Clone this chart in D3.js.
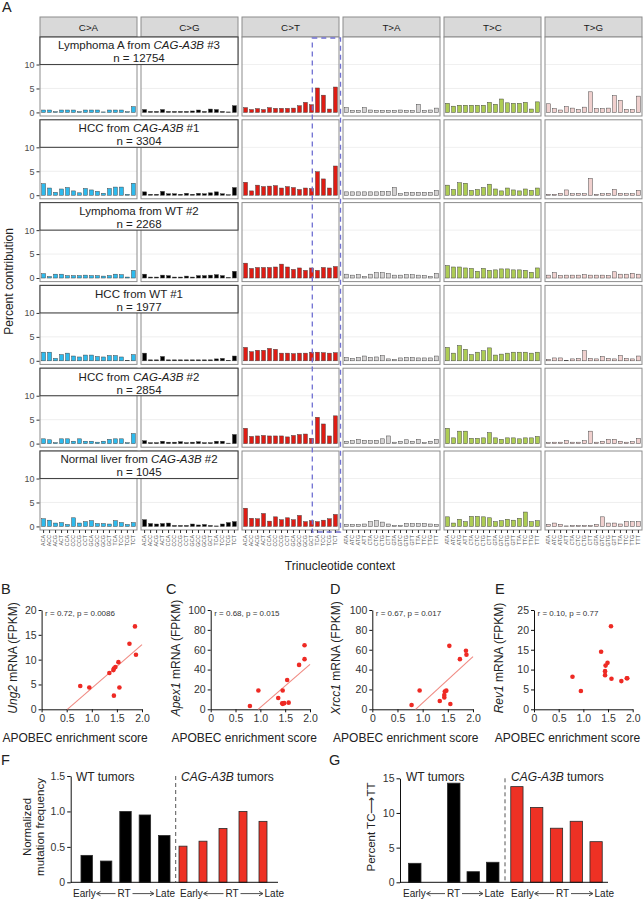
<!DOCTYPE html>
<html><head><meta charset="utf-8">
<script src="https://cdn.jsdelivr.net/npm/d3@7"></script>
<style>
body{margin:0;background:#fff}
svg{display:block;font-family:'Liberation Sans',Arial,Helvetica,sans-serif}
</style>
</head><body>
<svg id="chart" width="643" height="899"></svg>
<script>
// ================= DATA =================
const mutTypes = ["C>A","C>G","C>T","T>A","T>C","T>G"];
const mutColors = ["#2EBAED","#000000","#DE1C14","#D4D2D2","#ADCC54","#F0D0CE"];
const contextsC = ["ACA","ACC","ACG","ACT","CCA","CCC","CCG","CCT","GCA","GCC","GCG","GCT","TCA","TCC","TCG","TCT"];
const contextsT = ["ATA","ATC","ATG","ATT","CTA","CTC","CTG","CTT","GTA","GTC","GTG","GTT","TTA","TTC","TTG","TTT"];
const yTicksA = [0,5,10];
const sampleLabels = [
  ["Lymphoma A from ","CAG-A3B"," #3"],
  ["HCC from ","CAG-A3B"," #1"],
  ["Lymphoma from WT #2","",""],
  ["HCC from WT #1","",""],
  ["HCC from ","CAG-A3B"," #2"],
  ["Normal liver from ","CAG-A3B"," #2"]
];
const sampleN = [12754, 3304, 2268, 1977, 2854, 1045];

// percent contribution, order: C>A, C>G, C>T, T>A, T>C, T>G (16 contexts each)
const profLymphomaA3B3 = [
  0.5,0.5,0.15,0.5,0.5,0.5,0.15,0.5,0.5,0.5,0.1,0.5,0.5,0.5,0.15,1.2,
  0.6,0.2,0.2,0.6,0.2,0.2,0.2,0.2,0.3,0.5,0.2,0.7,0.6,0.2,0.1,1.4,
  1.0,0.6,0.8,0.6,1.0,0.85,0.85,0.85,0.9,1.4,2.1,1.6,5.1,3.6,0.7,5.3,
  1.0,0.4,0.4,1.0,0.5,0.4,0.4,0.4,0.4,0.5,0.4,0.4,1.7,0.4,0.5,0.9,
  1.9,1.3,1.5,1.5,1.5,1.5,1.5,2.1,1.7,2.8,2.0,1.9,1.9,2.1,0.7,2.2,
  1.8,0.8,0.5,1.2,0.9,0.6,1.1,4.3,0.8,0.8,0.9,3.5,2.5,0.6,0.6,3.4
];
const profHccA3B1 = [
  2.4,1.5,0.6,1.3,1.6,0.9,0.5,1.4,1.1,0.8,0.4,1.4,1.7,1.7,0.2,2.5,
  0.7,0.2,0.2,0.8,0.3,0.3,0.2,0.4,0.2,0.4,0.3,0.5,0.7,0.3,0.1,1.6,
  2.7,0.9,2.1,1.8,1.9,2.0,1.5,1.8,1.6,1.2,1.5,1.4,4.9,3.4,1.5,6.1,
  0.7,0.7,0.7,0.7,0.7,0.7,0.8,0.8,1.6,0.3,0.6,0.6,0.6,0.6,0.6,1.0,
  2.1,1.2,2.6,2.5,1.0,1.2,1.6,2.3,1.3,0.9,1.5,1.1,0.9,1.3,1.0,1.5,
  0.2,0.2,0.4,1.1,0.3,0.4,0.3,3.5,0.2,0.3,0.4,1.2,0.4,0.3,0.3,1.0
];
const profLymphomaWT2 = [
  0.9,0.3,0.8,0.8,0.5,0.5,0.5,0.6,0.5,0.5,0.4,0.5,0.8,0.7,0.2,1.6,
  0.8,0.2,0.2,0.6,0.5,0.2,0.2,0.4,0.2,0.5,0.5,0.6,0.7,0.5,0.1,1.4,
  3.1,2.0,2.2,2.2,2.2,2.3,2.9,2.3,1.8,2.1,1.6,2.1,1.6,2.2,2.1,2.4,
  0.8,0.6,0.7,0.3,0.8,1.1,1.1,0.9,0.6,0.6,0.7,0.7,0.6,0.5,0.3,1.0,
  2.6,2.3,2.3,2.1,2.0,1.4,2.0,1.6,1.7,1.9,1.9,1.7,1.7,1.6,1.2,2.1,
  0.6,1.1,0.5,0.6,0.6,0.6,0.7,0.6,0.6,0.6,0.5,1.3,0.8,0.8,1.0,0.8
];
const profHccWT1 = [
  1.8,1.8,0.5,1.3,1.6,1.0,0.8,1.2,1.2,0.9,0.8,1.1,1.1,0.8,0.1,1.3,
  1.6,0.2,0.2,0.9,0.2,0.2,0.2,0.2,0.2,0.2,0.2,0.2,0.4,0.5,0.1,1.0,
  2.8,1.9,2.2,2.2,2.6,2.4,1.6,1.6,1.5,1.6,1.6,1.8,1.8,1.7,1.6,1.7,
  0.7,0.5,0.7,1.0,0.7,0.8,1.1,0.4,0.3,0.6,0.7,0.7,0.6,0.6,0.6,1.0,
  2.8,1.6,3.2,2.4,1.3,1.8,2.1,2.7,1.2,1.4,1.6,1.8,1.8,1.8,1.6,1.8,
  0.3,0.6,0.6,0.1,0.4,0.5,2.1,0.5,0.4,0.9,0.5,0.4,1.1,0.5,0.4,1.0
];
const profHccA3B2 = [
  1.0,0.8,0.2,1.0,1.0,0.5,1.0,0.5,0.5,0.3,0.5,0.9,1.0,1.0,0.2,2.1,
  0.6,0.2,0.2,0.5,0.3,0.3,0.4,0.2,0.3,0.4,0.2,0.2,0.5,0.5,0.1,1.9,
  3.2,1.5,1.6,1.7,1.6,1.6,1.6,1.4,1.7,1.9,2.0,1.1,5.5,4.1,1.6,5.8,
  0.5,0.6,0.9,0.7,0.6,0.7,1.0,1.6,0.3,0.5,0.8,0.5,0.9,0.2,0.5,0.9,
  3.2,1.2,2.6,2.6,1.1,1.1,1.2,2.3,1.2,0.9,1.2,1.2,1.0,1.2,1.2,1.5,
  0.2,0.3,0.3,0.6,0.3,0.3,0.6,2.6,0.3,0.5,0.9,0.9,0.5,0.3,0.4,1.1
];
const profLiverA3B2 = [
  1.6,1.3,0.7,0.8,0.4,1.8,0.7,1.0,1.2,0.6,0.6,0.5,1.2,0.8,0.4,0.8,
  1.4,0.6,0.5,0.6,0.7,0.2,0.2,0.2,0.5,0.3,0.4,0.2,0.1,0.5,0.8,1.0,
  3.8,1.7,1.6,2.7,1.1,2.0,1.4,1.8,1.4,2.3,1.0,1.2,1.0,1.3,1.6,2.5,
  0.4,0.4,0.4,0.5,1.0,1.2,0.9,0.5,0.2,0.2,0.6,0.6,0.6,0.6,0.5,0.4,
  2.0,0.7,1.5,1.0,2.1,2.1,2.0,1.8,1.0,1.2,1.5,1.3,1.7,3.0,1.0,1.2,
  0.4,0.7,0.4,0.1,0.2,0.2,0.2,0.2,0.4,2.0,0.7,0.7,0.5,1.0,1.0,1.0
];
const profiles = [profLymphomaA3B3, profHccA3B1, profLymphomaWT2, profHccWT1, profHccA3B2, profLiverA3B2];

// Scatter panels B-E
const xTicksScatter = [0,0.5,1.0,1.5,2.0];
const scoreB = [0.77,0.95,1.35,1.43,1.44,1.44,1.47,1.53,1.55,1.75,1.86,1.88];
const ung2   = [4.7,4.4,7.3,7.9,8.2,2.75,8.5,9.5,4.4,13.2,16.7,11.0];
const scoreC = [0.79,0.96,1.36,1.44,1.45,1.45,1.48,1.54,1.57,1.78,1.89,1.89];
const apex1  = [3.3,19,11.4,6.0,19,5.5,6.2,29.5,6.7,44.7,64.5,50.5];
const scoreD = [0.78,0.94,1.34,1.43,1.43,1.44,1.47,1.53,1.55,1.74,1.86,1.87];
const xrcc1  = [4.3,19,8.4,12,14.4,18,18.8,63.9,5.3,50.5,59,55];
const scoreE = [0.78,0.95,1.36,1.44,1.44,1.45,1.49,1.56,1.57,1.77,1.88,1.89];
const rev1   = [8.2,4.6,14.5,8.6,9.6,11.0,11.7,20.9,7.7,7.1,7.8,7.8];

// Panels F-G (replication timing bins, early -> late)
const rtBins = ["1","2","3","4","5"];
const normFreqWT  = [0.38,0.30,1.00,0.95,0.66];
const normFreqA3B = [0.51,0.58,0.76,1.00,0.86];
const pctTCTT_WT  = [2.74,0,14.3,1.53,2.89];
const pctTCTT_A3B = [13.8,10.8,7.8,8.8,5.86];

// ================= DRAW =================
const svg = d3.select("#chart");
const INK = "#222";

// ---------- Panel A ----------
const A = {x0:40, pitch:101, w:97, top0:37, rowPitch:82.8, h:79, stripY:17, stripH:20};
const gA = svg.append("g");
gA.append("text").attr("x",2).attr("y",12).attr("font-size",14.5).attr("fill",INK).text("A");

mutTypes.forEach((mt,t)=>{
  const px = A.x0 + t*A.pitch;
  gA.append("rect").attr("x",px).attr("y",A.stripY).attr("width",A.w).attr("height",A.stripH)
    .attr("fill","#D9D9D9").attr("stroke","#8C8C8C").attr("stroke-width",1);
  gA.append("text").attr("x",px+A.w/2).attr("y",A.stripY+A.stripH/2+3.6)
    .attr("text-anchor","middle").attr("font-size",9.8).attr("fill","#1A1A1A").text(mt);
});

const bandFor = (t)=> d3.scaleBand().domain(t<3?contextsC:contextsT)
  .range([A.x0+t*A.pitch, A.x0+t*A.pitch+A.w]).paddingInner(0.35).paddingOuter(0.275);

profiles.forEach((prof,r)=>{
  const top = A.top0 + r*A.rowPitch;
  const y = d3.scaleLinear().domain([-0.75,15.75]).range([top+A.h, top]);
  mutTypes.forEach((mt,t)=>{
    const bx = bandFor(t);
    const ctx = t<3?contextsC:contextsT;
    const px = A.x0 + t*A.pitch;
    gA.append("rect").attr("x",px).attr("y",top).attr("width",A.w).attr("height",A.h).attr("fill","#fff");
    yTicksA.forEach(v=>{
      gA.append("line").attr("x1",px).attr("x2",px+A.w).attr("y1",y(v)).attr("y2",y(v))
        .attr("stroke","#EBEBEB").attr("stroke-width",0.8);
    });
    const vals = prof.slice(t*16, t*16+16).map((v,i)=>({c:ctx[i], v}));
    gA.append("g").selectAll("rect").data(vals).join("rect")
      .attr("x",d=>bx(d.c)).attr("width",bx.bandwidth())
      .attr("y",d=>y(d.v)).attr("height",d=>y(0)-y(d.v))
      .attr("fill",mutColors[t]).attr("stroke","#3a3a3a").attr("stroke-width",0.45);
    gA.append("rect").attr("x",px).attr("y",top).attr("width",A.w).attr("height",A.h)
      .attr("fill","none").attr("stroke","#8C8C8C").attr("stroke-width",1);
  });
  const ax = gA.append("g").attr("transform",`translate(${A.x0-0.5},0)`)
    .call(d3.axisLeft(y).tickValues(yTicksA).tickSize(3).tickPadding(2).tickSizeOuter(0));
  ax.select(".domain").remove();
  ax.selectAll("line").attr("stroke","#333");
  ax.selectAll("text").attr("font-size",9).attr("fill","#4D4D4D").attr("font-family",null);
  const bw = A.pitch + A.w;
  gA.append("rect").attr("x",A.x0).attr("y",top).attr("width",bw).attr("height",y(10)-top)
    .attr("fill","#fff").attr("stroke","#444").attr("stroke-width",1.1);
  const t1 = gA.append("text").attr("x",A.x0+bw/2).attr("y",top+12.3).attr("text-anchor","middle")
    .attr("font-size",11.5).attr("fill",INK);
  t1.append("tspan").text(sampleLabels[r][0]);
  if (sampleLabels[r][1]) t1.append("tspan").attr("font-style","italic").text(sampleLabels[r][1]);
  if (sampleLabels[r][2]) t1.append("tspan").text(sampleLabels[r][2]);
  gA.append("text").attr("x",A.x0+bw/2).attr("y",top+25.3).attr("text-anchor","middle")
    .attr("font-size",11.5).attr("fill",INK).text("n = "+sampleN[r]);
});

mutTypes.forEach((mt,t)=>{
  const bx = bandFor(t);
  const ax = gA.append("g").attr("transform",`translate(0,${A.top0+5*A.rowPitch+A.h})`)
    .call(d3.axisBottom(bx).tickSize(3).tickPadding(2).tickSizeOuter(0));
  ax.select(".domain").remove();
  ax.selectAll("line").attr("stroke","#333");
  ax.selectAll("text").attr("font-family",null).attr("font-size",5.3).attr("fill","#4D4D4D")
    .attr("transform","rotate(-90)").attr("x",-5).attr("y",0).attr("dy","0.35em").attr("text-anchor","end");
});

{
  const bx = bandFor(2);
  const x1 = bx("TCA") - 3.2, x2 = A.x0+2*A.pitch+A.w+1.5;
  const y1 = A.top0+1, y2 = A.top0+5*A.rowPitch+A.h+2;
  gA.append("rect").attr("x",x1).attr("y",y1).attr("width",x2-x1).attr("height",y2-y1)
    .attr("fill","none").attr("stroke","#6F6FD2").attr("stroke-width",1.3).attr("stroke-dasharray","5,4");
}

gA.append("text").attr("transform",`translate(13,${A.top0+3*A.rowPitch - 4}) rotate(-90)`)
  .attr("text-anchor","middle").attr("font-size",12).attr("fill",INK).text("Percent contribution");
gA.append("text").attr("x",340).attr("y",570).attr("text-anchor","middle")
  .attr("font-size",12).attr("fill",INK).text("Trinucleotide context");

// ---------- Scatter panels ----------
function regression(xs, ys){
  const mx=d3.mean(xs), my=d3.mean(ys);
  let sxy=0,sxx=0; xs.forEach((x,i)=>{sxy+=(x-mx)*(ys[i]-my); sxx+=(x-mx)*(x-mx);});
  const m=sxy/sxx; return {m, b: my-m*mx};
}
function scatter(cfg){
  const g = svg.append("g");
  const x = d3.scaleLinear().domain([0,2]).range([cfg.ax0, cfg.ax1]);
  const y = d3.scaleLinear().domain([0,cfg.yMax]).range([709.3,610]);
  g.append("text").attr("x",cfg.letterX).attr("y",594).attr("font-size",14.5).attr("fill",INK).text(cfg.letter);
  const xa = g.append("g").attr("transform",`translate(0,${y(0)})`)
    .call(d3.axisBottom(x).tickValues(xTicksScatter).tickFormat(d=>d===0?"0":d3.format(".1f")(d))
      .tickSize(3).tickPadding(2).tickSizeOuter(0));
  const ya = g.append("g").attr("transform",`translate(${x(0)},0)`)
    .call(d3.axisLeft(y).tickValues(cfg.yTicks).tickSize(3).tickPadding(2).tickSizeOuter(0));
  [xa,ya].forEach(a=>{
    a.selectAll("path,line").attr("stroke","#111").attr("stroke-width",1);
    a.selectAll("text").attr("font-family",null).attr("font-size",10.5).attr("fill","#333");
  });
  if (cfg.fit){
    const {m,b} = regression(cfg.xs, cfg.ys);
    const xs0 = Math.max(0, -b/m), xs1 = 2.0;
    g.append("line").attr("x1",x(xs0)).attr("y1",y(m*xs0+b)).attr("x2",x(xs1)).attr("y2",y(m*xs1+b))
      .attr("stroke","#F08A82").attr("stroke-width",1.1);
  }
  g.selectAll("circle").data(cfg.xs.map((v,i)=>[v,cfg.ys[i]])).join("circle")
    .attr("cx",d=>x(d[0])).attr("cy",d=>y(d[1])).attr("r",2.3).attr("fill","#EE2A24");
  g.append("text").attr("x",cfg.ax0+3.5).attr("y",616).attr("font-size",8).attr("fill","#333").text(cfg.note);
  const yt = g.append("text").attr("transform",`translate(${cfg.titleX},658) rotate(-90)`)
    .attr("text-anchor","middle").attr("font-size",12).attr("fill",INK);
  yt.append("tspan").attr("font-style","italic").text(cfg.gene);
  yt.append("tspan").text(" mRNA (FPKM)");
  g.append("text").attr("x",cfg.ax0+33.5).attr("y",742).attr("text-anchor","middle")
    .attr("font-size",12).attr("fill",INK).text("APOBEC enrichment score");
}
scatter({letter:"B",letterX:1,ax0:41.6,ax1:142,yMax:20,yTicks:[0,5,10,15,20],xs:scoreB,ys:ung2,fit:true,
  note:"r = 0.72, p = 0.0086",gene:"Ung2",titleX:17});
scatter({letter:"C",letterX:166,ax0:210.7,ax1:310,yMax:100,yTicks:[0,20,40,60,80,100],xs:scoreC,ys:apex1,fit:true,
  note:"r = 0.68, p = 0.015",gene:"Apex1",titleX:180});
scatter({letter:"D",letterX:330,ax0:372.3,ax1:473,yMax:100,yTicks:[0,20,40,60,80,100],xs:scoreD,ys:xrcc1,fit:true,
  note:"r = 0.67, p = 0.017",gene:"Xrcc1",titleX:340});
scatter({letter:"E",letterX:495,ax0:534,ax1:632.7,yMax:25,yTicks:[0,5,10,15,20,25],xs:scoreE,ys:rev1,fit:false,
  note:"r = 0.10, p = 0.77",gene:"Rev1",titleX:503});

// ---------- Bar panels F, G ----------
function arrowLabel(g, x0, x1, yb){
  const fs = 10, mid=(x0+x1)/2;
  g.append("text").attr("x",x0).attr("y",yb).attr("font-size",fs).attr("fill",INK).text("Early");
  g.append("text").attr("x",x1).attr("y",yb).attr("text-anchor","end").attr("font-size",fs).attr("fill",INK).text("Late");
  g.append("text").attr("x",mid).attr("y",yb).attr("text-anchor","middle").attr("font-size",fs).attr("fill",INK).text("RT");
  const ay = yb-3.4;
  const la = x0+23.5, lb = mid-8.5, ra = mid+8.5, rb = x1-21;
  g.append("line").attr("x1",la+1).attr("x2",lb).attr("y1",ay).attr("y2",ay).attr("stroke",INK).attr("stroke-width",0.8);
  g.append("path").attr("d",`M${la},${ay} l4,-2.2 M${la},${ay} l4,2.2`).attr("stroke",INK).attr("stroke-width",0.8).attr("fill","none");
  g.append("line").attr("x1",ra).attr("x2",rb-1).attr("y1",ay).attr("y2",ay).attr("stroke",INK).attr("stroke-width",0.8);
  g.append("path").attr("d",`M${rb},${ay} l-4,-2.2 M${rb},${ay} l-4,2.2`).attr("stroke",INK).attr("stroke-width",0.8).attr("fill","none");
}
function rtPanel(cfg){
  const g = svg.append("g");
  const y = d3.scaleLinear().domain([0,cfg.yMax]).range([882.3, cfg.yTopPx]);
  g.append("text").attr("x",cfg.letterX).attr("y",765).attr("font-size",14.5).attr("fill",INK).text(cfg.letter);
  cfg.groups.forEach(gr=>{
    const bx = d3.scaleBand().domain(rtBins).range(gr.range).paddingInner(gr.pi).paddingOuter(gr.pi/2);
    g.append("g").selectAll("rect").data(gr.vals.map((v,i)=>({k:rtBins[i],v}))).join("rect")
      .attr("x",d=>bx(d.k)).attr("width",bx.bandwidth())
      .attr("y",d=>y(d.v)).attr("height",d=>y(0)-y(d.v))
      .attr("fill",gr.color).attr("stroke","#2a2a2a").attr("stroke-width",d=>d.v>0?0.8:0);
    const tl = g.append("text").attr("x",gr.labelX).attr("y",781).attr("font-size",12).attr("fill",INK);
    if (gr.italic) { tl.append("tspan").attr("font-style","italic").text(gr.italic); tl.append("tspan").text(" tumors"); }
    else tl.text("WT tumors");
    arrowLabel(g, gr.rt[0], gr.rt[1], 897);
  });
  g.append("line").attr("x1",cfg.dashX).attr("x2",cfg.dashX).attr("y1",cfg.yTopPx).attr("y2",882)
    .attr("stroke","#555").attr("stroke-width",1).attr("stroke-dasharray","4,3");
  const ya = g.append("g").attr("transform",`translate(${cfg.ax0},0)`)
    .call(d3.axisLeft(y).tickValues(cfg.yTicks).tickFormat(cfg.fmt).tickSize(3.5).tickPadding(2).tickSizeOuter(0));
  ya.selectAll("path,line").attr("stroke","#111").attr("stroke-width",1);
  ya.selectAll("text").attr("font-family",null).attr("font-size",10.5).attr("fill","#333");
  g.append("line").attr("x1",cfg.ax0).attr("x2",cfg.axEnd).attr("y1",y(0)).attr("y2",y(0)).attr("stroke","#111").attr("stroke-width",1);
  cfg.titles.forEach((t,i)=>{
    g.append("text").attr("transform",`translate(${cfg.titleX[i]},827) rotate(-90)`)
      .attr("text-anchor","middle").attr("font-size",11.5).attr("fill",INK).text(t);
  });
}
rtPanel({letter:"F",letterX:1,ax0:70.7,axEnd:278,yMax:1.5,yTopPx:776,yTicks:[0,0.5,1.0,1.5],
  fmt:d=>d===0?"0":d3.format(".1f")(d), dashX:175.7,
  titles:["Normalized","mutation frequency"], titleX:[31,44],
  groups:[
    {vals:normFreqWT,range:[77,174],pi:0.41,color:"#000",labelX:76,rt:[73,175]},
    {vals:normFreqA3B,range:[173,273],pi:0.6,color:"#EE3124",labelX:181,italic:"CAG-A3B",rt:[180,284]}
  ]});
rtPanel({letter:"G",letterX:329,ax0:400,axEnd:608,yMax:15,yTopPx:778.3,yTicks:[0,5,10,15],
  fmt:d3.format("d"), dashX:505,
  titles:["Percent TC\u27F6TT"], titleX:[375],
  groups:[
    {vals:pctTCTT_WT,range:[405,502.5],pi:0.36,color:"#000",labelX:406,rt:[403,504]},
    {vals:pctTCTT_A3B,range:[507,606],pi:0.38,color:"#EE3124",labelX:511,italic:"CAG-A3B",rt:[511,614]}
  ]});
</script>
</body></html>
